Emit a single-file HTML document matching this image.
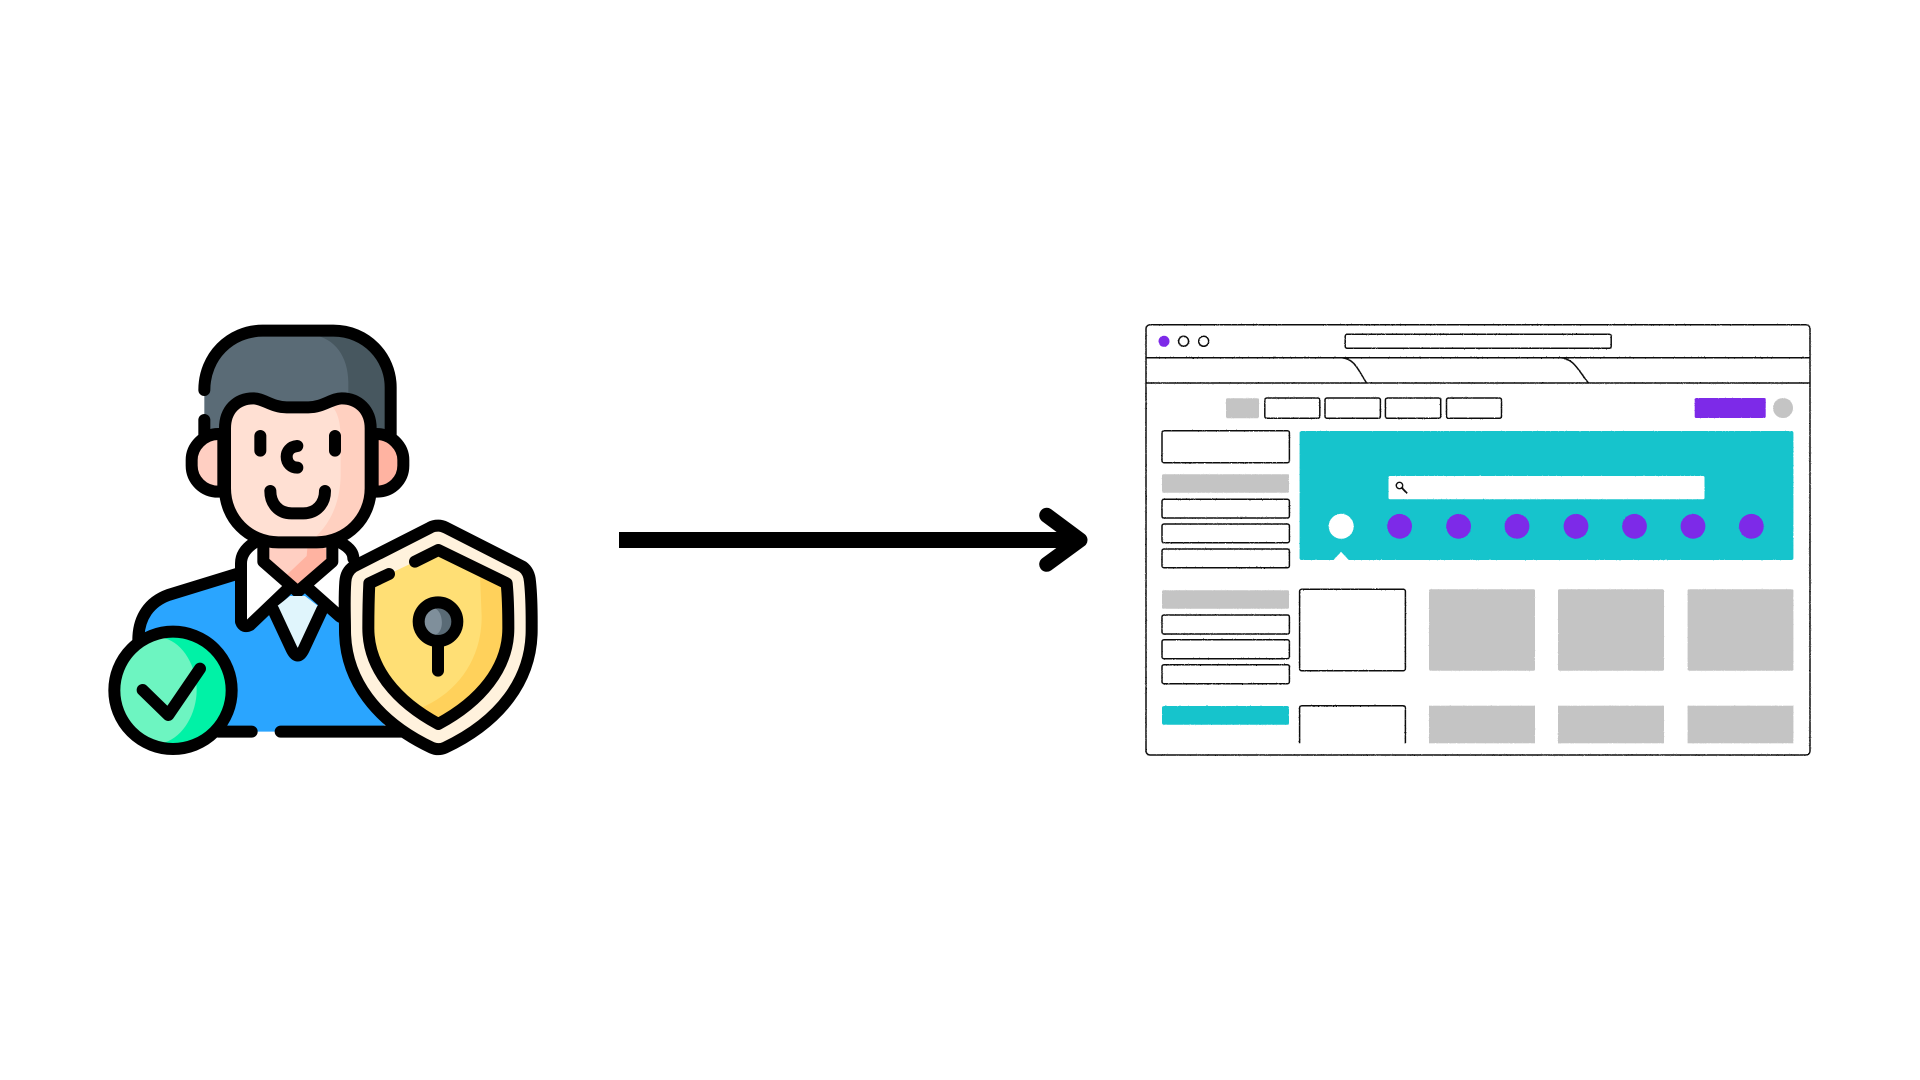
<!DOCTYPE html>
<html><head><meta charset="utf-8"><style>html,body{margin:0;padding:0;background:#fff;width:1920px;height:1080px;overflow:hidden}svg{display:block}</style></head><body>
<svg width="1920" height="1080" viewBox="0 0 1920 1080" xmlns="http://www.w3.org/2000/svg">
<defs>
<filter id="rough" x="0" y="0" width="1" height="1" filterUnits="objectBoundingBox">
<feTurbulence type="fractalNoise" baseFrequency="0.9" numOctaves="2" seed="3" result="n"/>
<feDisplacementMap in="SourceGraphic" in2="n" scale="1.1" xChannelSelector="R" yChannelSelector="G"/>
</filter>
</defs>
<rect width="1920" height="1080" fill="#fff"/>
<g transform="translate(90,300) scale(0.33333)" stroke-linecap="round" stroke-linejoin="round">
<!-- body -->
<path d="M147 1020Q150 915 235 885L440 822L790 822L790 1050Q800 1180 900 1295L380 1295Z" fill="#2aa5ff"/>
<path d="M145 1020C145 950 180 905 235 885L440 822" fill="none" stroke="#000" stroke-width="36"/>
<path d="M385 1295L485 1295M572 1295L945 1295" fill="none" stroke="#000" stroke-width="36"/>
<!-- hair -->
<path d="M343 265C343 170 420 92 518 92L730 92C828 92 902 170 902 262L902 410L343 410Z" fill="#5a6b76"/>
<path d="M670 105C735 115 775 170 775 250L775 410L902 410L902 262C902 170 828 92 730 92Z" fill="#47575f"/>
<path d="M343 270C343 170 420 92 518 92L730 92C828 92 902 170 902 262L902 410M343 360L343 405" fill="none" stroke="#000" stroke-width="36"/>
<!-- ears -->
<path d="M400 402L385 402C340 402 305 440 305 480L305 497C305 540 340 575 385 575L400 575Z" fill="#ffcfc2" stroke="#000" stroke-width="36"/>
<path d="M848 402L860 402C905 402 940 440 940 480L940 497C940 540 905 575 860 575L848 575Z" fill="#ffb3a1" stroke="#000" stroke-width="36"/>
<!-- collar -->
<path d="M453 790Q453 750 500 730L745 730Q790 750 790 775L770 950L660 870L623 880L590 870L480 975Q460 985 453 965Z" fill="#fff"/>
<path d="M590 870L480 975Q460 985 453 965L453 790Q453 755 490 730M755 730Q790 750 790 775M660 870L750 950" fill="none" stroke="#000" stroke-width="36"/>
<!-- neck -->
<path d="M520 740L520 785L623 875L727 785L727 740Z" fill="#ffcfc2"/>
<path d="M708 745L708 785L623 860L590 825L650 768L652 745Z" fill="#ffb3a1"/>
<path d="M520 740L520 785L623 875L727 785L727 740" fill="none" stroke="#000" stroke-width="36"/>
<!-- inner shirt -->
<path d="M549 928L605 1048Q623 1085 641 1048L697 928L645 888L600 888Z" fill="#e0f5fc"/>
<path d="M549 928L605 1048Q623 1085 641 1048L697 928" fill="none" stroke="#000" stroke-width="36"/>
<!-- face -->
<path d="M405 385C405 330 440 295 490 295C520 295 545 322 590 322L655 322C700 322 725 295 755 295C805 295 842 330 842 385L842 565C842 654 771 727 680 727L565 727C475 727 405 654 405 565Z" fill="#ffe0d3"/>
<path d="M720 312C745 335 752 370 752 420L752 520C752 620 710 690 655 727L680 727C771 727 842 654 842 565L842 385C842 330 805 295 755 295Z" fill="#ffd0c0"/>
<path d="M405 385C405 330 440 295 490 295C520 295 545 322 590 322L655 322C700 322 725 295 755 295C805 295 842 330 842 385L842 565C842 654 771 727 680 727L565 727C475 727 405 654 405 565Z" fill="none" stroke="#000" stroke-width="36"/>
<path d="M511 408L511 452M735 408L735 452M622 438C600 440 590 455 590 470C590 490 605 503 622 503M541 573C541 610 565 640 605 640L640 640C680 640 705 610 705 573" fill="none" stroke="#000" stroke-width="36"/>
<!-- shield -->
<path d="M1045 677Q1030 677 1020 683L790 800Q768 815 766 845C762 900 765 950 765 990C765 1140 860 1265 1025 1343Q1045 1352 1065 1343C1230 1265 1325 1140 1325 990C1325 950 1326 900 1320 845Q1318 815 1298 800L1068 683Q1055 677 1045 677Z" fill="#fff2dd" stroke="#000" stroke-width="36"/>
<path d="M1045 752L1250 855C1254 890 1255 940 1255 985C1255 1105 1170 1205 1045 1272C920 1205 835 1105 835 985C835 940 836 890 838 850Z" fill="#ffdf75"/>
<path d="M1170 825L1250 855C1254 890 1255 940 1255 985C1255 1105 1170 1205 1045 1272L990 1225C1100 1180 1175 1080 1175 950Z" fill="#ffd15b"/>
<path d="M975 785L1045 750L1250 850C1254 890 1255 940 1255 985C1255 1105 1170 1205 1045 1272C920 1205 835 1105 835 985C835 940 836 890 838 850L897 822" fill="none" stroke="#000" stroke-width="36"/>
<circle cx="1044" cy="965" r="58" fill="#7f8f9b"/>
<path d="M1035 925C1060 935 1065 995 1035 1005C1070 1010 1085 985 1085 965C1085 945 1065 920 1035 925Z" fill="#5a6b76"/>
<circle cx="1044" cy="965" r="58" fill="none" stroke="#000" stroke-width="36"/>
<path d="M1044 1040L1044 1112" fill="none" stroke="#000" stroke-width="36"/>
<!-- badge -->
<circle cx="249" cy="1171" r="176" fill="#6df5c1"/>
<path d="M225 1015C280 1030 320 1100 320 1170C320 1240 280 1310 225 1327L249 1347A176 176 0 0 0 249 995Z" fill="#00f2a6"/>
<circle cx="249" cy="1171" r="176" fill="none" stroke="#000" stroke-width="36"/>
<path d="M158 1170L235 1245L330 1106" fill="none" stroke="#000" stroke-width="36"/>
</g>
<!-- arrow -->
<rect x="619" y="532" width="460" height="16" fill="#000"/>
<path d="M1046.7 515.3L1080 540L1046.7 564.3" fill="none" stroke="#000" stroke-width="15" stroke-linecap="round" stroke-linejoin="round"/>
<!-- browser -->
<g filter="url(#rough)">
<rect x="1140" y="320" width="676" height="440" fill="#fff"/>
<g fill="none" stroke="#111" stroke-width="1.5">
<rect x="1146" y="324.7" width="664" height="430.3" rx="4" fill="#fff"/>
<path d="M1146 357.7H1810M1146 383H1810"/>
<path d="M1342 357.7C1355 359 1358 370 1366.6 383M1561 357.7C1574 359 1578 370 1588.5 383"/>
<rect x="1345.2" y="334.3" width="266" height="14" rx="2"/>
<circle cx="1183.6" cy="341.3" r="5"/>
<circle cx="1203.7" cy="341.3" r="5"/>
<rect x="1264.8" y="398" width="55" height="20.3" rx="2"/>
<rect x="1325" y="398" width="55.4" height="20.3" rx="2"/>
<rect x="1385.4" y="398" width="55.3" height="20.3" rx="2"/>
<rect x="1446.5" y="398" width="55" height="20.3" rx="2"/>
<rect x="1162" y="430.7" width="127.4" height="32" rx="2"/>
<rect x="1162" y="499.3" width="127.4" height="18.7" rx="2"/>
<rect x="1162" y="524" width="127.4" height="18.7" rx="2"/>
<rect x="1162" y="549" width="127.4" height="18.7" rx="2"/>
<rect x="1162" y="615" width="127.4" height="19" rx="2"/>
<rect x="1162" y="639.7" width="127.4" height="19" rx="2"/>
<rect x="1162" y="664.7" width="127.4" height="19" rx="2"/>
<rect x="1299.6" y="589.3" width="105.8" height="81.4" rx="2"/>
<path d="M1299.6 743.3V708Q1299.6 705.7 1302 705.7H1403Q1405.4 705.7 1405.4 708V743.3"/>
</g>
<circle cx="1164" cy="341.3" r="5.5" fill="#7d2ae8"/>
<g fill="#c4c4c4">
<rect x="1226" y="398.3" width="33" height="20" rx="1.5"/>
<circle cx="1783" cy="408" r="10"/>
<rect x="1162" y="474.3" width="127" height="18.4" rx="1.5"/>
<rect x="1162" y="590.3" width="127" height="18.4" rx="1.5"/>
<rect x="1429" y="589.3" width="106" height="81.4" rx="1.5"/>
<rect x="1558" y="589.3" width="106" height="81.4" rx="1.5"/>
<rect x="1687.6" y="589.3" width="105.8" height="81.4" rx="1.5"/>
<rect x="1429" y="705.7" width="106" height="37.6"/>
<rect x="1558" y="705.7" width="106" height="37.6"/>
<rect x="1687.6" y="705.7" width="105.8" height="37.6"/>
</g>
<rect x="1694.7" y="398" width="71" height="20" rx="1.5" fill="#7d2ae8"/>
<rect x="1299.6" y="431" width="493.8" height="129" rx="2" fill="#14c4cc"/>
<rect x="1162" y="706" width="127" height="18.7" rx="2" fill="#14c4cc"/>
<rect x="1388.5" y="476" width="316" height="23.3" rx="1.5" fill="#fff"/>
<circle cx="1399.5" cy="485.5" r="3.2" fill="none" stroke="#111" stroke-width="1.4"/>
<path d="M1402 488L1406.5 492.8" stroke="#111" stroke-width="1.8" stroke-linecap="round"/>
<circle cx="1341.2" cy="526.3" r="12.5" fill="#fff"/>
<g fill="#7d2ae8">
<circle cx="1399.6" cy="526.3" r="12.4"/>
<circle cx="1458.6" cy="526.3" r="12.4"/>
<circle cx="1517" cy="526.3" r="12.4"/>
<circle cx="1576" cy="526.3" r="12.4"/>
<circle cx="1634.5" cy="526.3" r="12.4"/>
<circle cx="1693" cy="526.3" r="12.4"/>
<circle cx="1751.4" cy="526.3" r="12.4"/>
</g>
<path d="M1341 551.7L1333.6 560H1348.8Z" fill="#fff"/>
</g>
</svg>
</body></html>
